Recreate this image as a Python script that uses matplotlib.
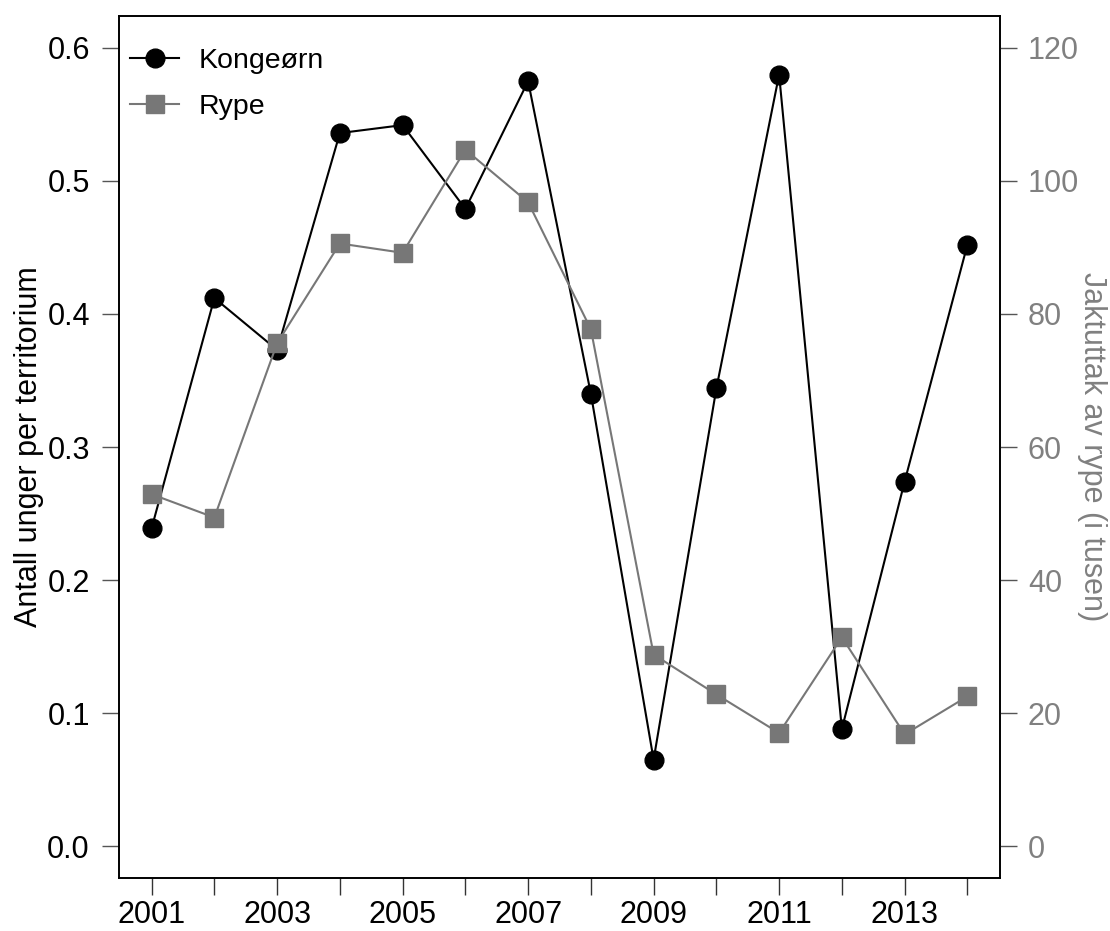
import matplotlib
matplotlib.use("Agg")
import matplotlib.pyplot as plt
from matplotlib.ticker import MultipleLocator

plt.rcParams["font.family"] = ["Liberation Sans", "DejaVu Sans"]

years = [2001, 2002, 2003, 2004, 2005, 2006, 2007, 2008, 2009, 2010, 2011, 2012, 2013, 2014]
kongeorn = [0.239, 0.412, 0.373, 0.536, 0.542, 0.479, 0.575, 0.340, 0.065, 0.344, 0.580, 0.088, 0.274, 0.452]
rype = [52.9, 49.4, 75.6, 90.6, 89.2, 104.7, 96.8, 77.7, 28.8, 22.8, 17.0, 31.4, 16.8, 22.5]

BLACK, GREY, TXTGREY = "black", "#777777", "#808080"

fig = plt.figure(figsize=(11.10, 9.31), dpi=100)
ax = fig.add_axes([0.1072, 0.0569, 0.7937, 0.9259])
ax2 = ax.twinx()

l1, = ax.plot(years, kongeorn, color=BLACK, lw=1.5, marker="o", ms=13.5, mfc=BLACK, mec=BLACK)
l2, = ax2.plot(years, rype, color=GREY, lw=1.5, marker="s", ms=13.5, mfc=GREY, mec=GREY)

# R-style 4% padding
ax.set_xlim(2000.48, 2014.52)
ax.set_ylim(-0.024, 0.624)
ax2.set_ylim(-4.8, 124.8)

ax.set_xticks(years)
ax.set_xticklabels([str(y) if y % 2 == 1 else "" for y in years])
ax.yaxis.set_major_locator(MultipleLocator(0.1))
ax.yaxis.set_major_formatter(matplotlib.ticker.FormatStrFormatter("%.1f"))
ax2.set_yticks([0, 20, 40, 60, 80, 100, 120])

ax.tick_params(axis="x", length=12, width=1, pad=4, labelsize=22, color="#333333")
ax.tick_params(axis="y", length=12, width=1, pad=9, labelsize=22, color="#555555")
ax2.tick_params(axis="y", length=12, width=1, pad=8, labelsize=22, color="#555555",
                labelcolor=TXTGREY)

for a in (ax, ax2):
    for s in a.spines.values():
        s.set_linewidth(1.2)
        s.set_color("black")

ax.set_ylabel("Antall unger per territorium", fontsize=22, labelpad=2)
ax2.set_ylabel("Jaktuttak av rype (i tusen)", fontsize=22, color=TXTGREY,
               rotation=270, labelpad=20)

ax2.legend([l1, l2], ["Kongeørn", "Rype"], loc="upper left", frameon=False,
           fontsize=20.5, handlelength=1.7, handletextpad=0.7, labelspacing=0.7,
           borderaxespad=0.0, bbox_to_anchor=(0.0, 0.976))

fig.savefig("out.png", dpi=100)
